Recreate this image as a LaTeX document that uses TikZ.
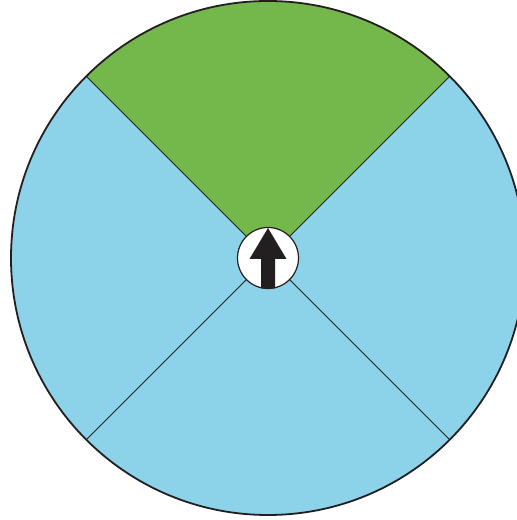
\documentclass[tikz,border=0pt]{standalone}
\usetikzlibrary{arrows.meta}
\definecolor{spingreen}{RGB}{116,183,74}
\definecolor{spinblue}{RGB}{140,210,232}
\definecolor{spinink}{RGB}{35,31,32}
\begin{document}
\begin{tikzpicture}[x=1pt,y=1pt, rim/.style={draw=spinink,line width=1.8pt}, divider/.style={draw=spinink,line width=0.9pt}, hub/.style={circle,draw=spinink,line width=1.2pt,fill=white,minimum size=61pt,inner sep=0pt}]
\useasboundingbox (0,0) rectangle (517,520);
\clip (0,0) rectangle (517,520);
\coordinate (c) at (268,262);
% sectors
\fill[spingreen] (c) -- ++(45:257) arc[start angle=45,end angle=135,radius=257] -- cycle;
\fill[spinblue] (c) -- ++(135:257) arc[start angle=135,end angle=405,radius=257] -- cycle;
\foreach \a in {45,135,225,315}
  \draw[divider] (c) -- ++(\a:257);
\draw[rim] (c) circle[radius=257];
% pointer
\node[hub] (hub) at (c) {};
\fill[spinink] (hub.center) ++(-7,-30.5) -- ++(14,0) -- ++(0,29.5) -- ++(11.5,0) -- ++(-18.5,31) -- ++(-18.5,-31) -- ++(11.5,0) -- cycle;
\end{tikzpicture}
\end{document}
